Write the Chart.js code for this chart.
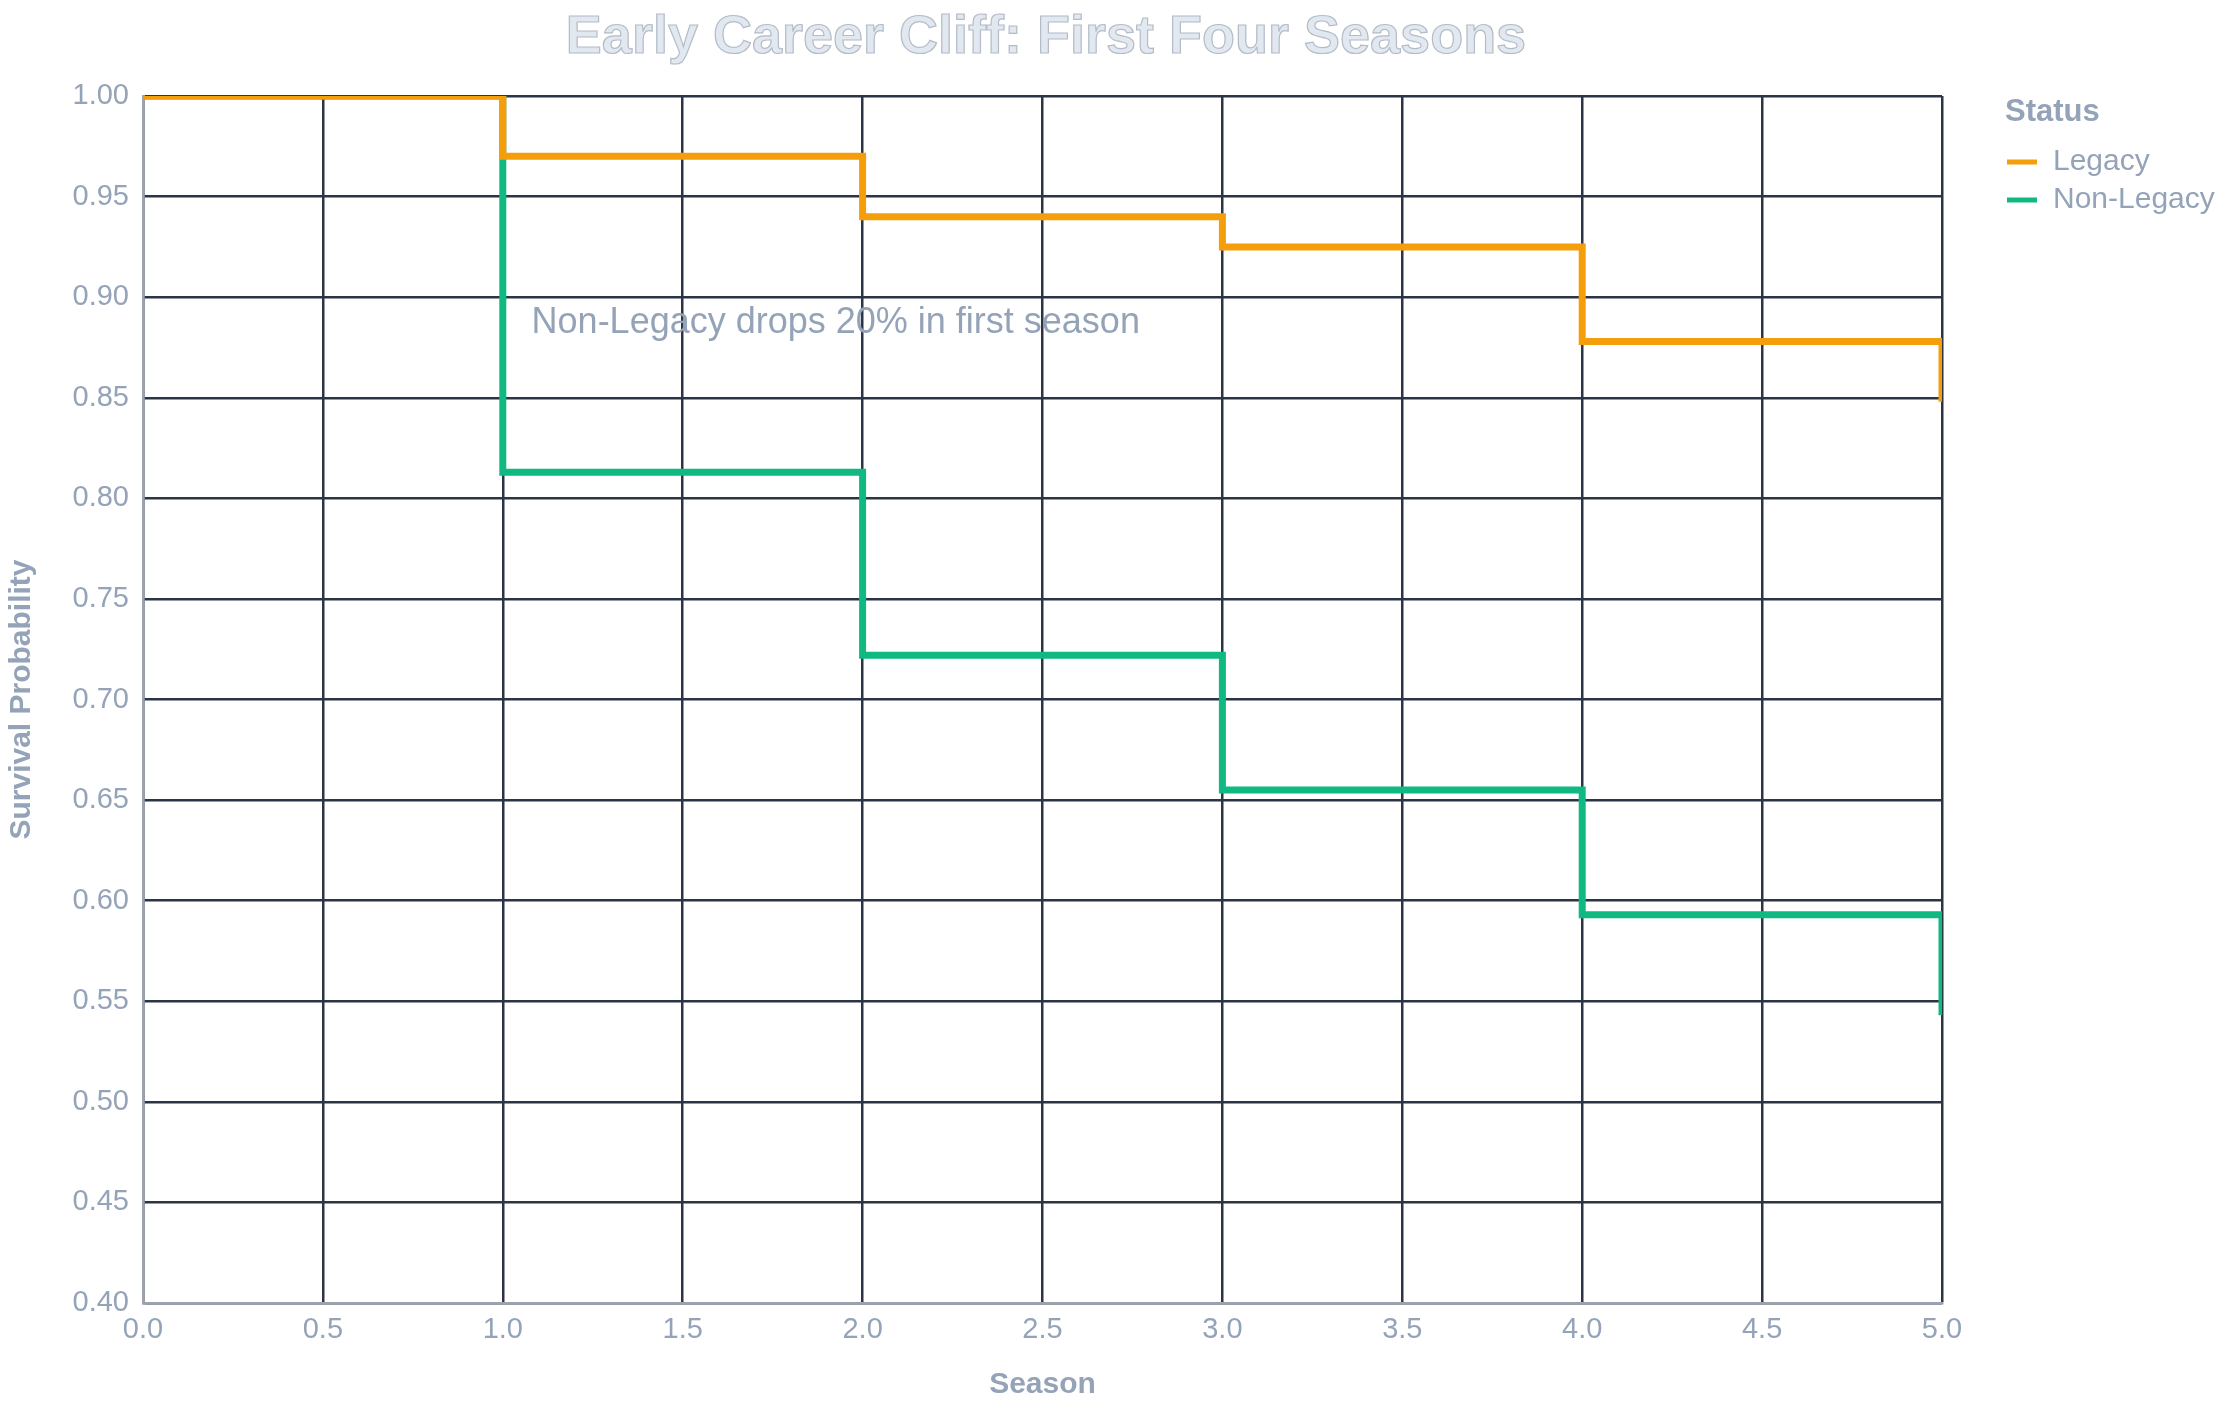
<!DOCTYPE html>
<html>
<head>
<meta charset="utf-8">
<script src="https://cdn.jsdelivr.net/npm/chart.js@4"></script>
<style>
  html, body { margin: 0; padding: 0; background: #fff; }
  #wrap { width: 2229px; height: 1407px; }
</style>
</head>
<body>
<div id="wrap"><canvas id="survival-chart"></canvas></div>
<script>
var seasons = [0, 1, 2, 3, 4, 5];
var legacy = [1.0, 0.97, 0.94, 0.925, 0.878, 0.848];
var nonLegacy = [1.0, 0.813, 0.722, 0.655, 0.593, 0.543];
var seriesNames = ['Legacy', 'Non-Legacy'];
var seriesColors = ['#F59E0B', '#10B981'];
var chartTitle = 'Early Career Cliff: First Four Seasons';
var noteText = 'Non-Legacy drops 20% in first season';
var noteAt = { x: 1.08, y: 0.887 };

var textColor = '#94A3B8';
var font = 'Helvetica, "Liberation Sans", Arial, sans-serif';

function toPoints(values) {
	return seasons.map(function (s, i) { return { x: s, y: values[i] }; });
}

var overlay = {
	id: 'overlay',
	afterDraw: function (chart) {
		var ctx = chart.ctx;
		ctx.save();
		// title
		ctx.font = 'bold 54px ' + font;
		ctx.textAlign = 'center';
		ctx.textBaseline = 'middle';
		ctx.fillStyle = '#E2E8F0';
		ctx.strokeStyle = '#B4BCC8';
		ctx.lineWidth = 1.2;
		ctx.fillText(chartTitle, 1046, 38);
		ctx.strokeText(chartTitle, 1046, 38);

		// annotation
		var xs = chart.scales.x, ys = chart.scales.y;
		ctx.font = '36px ' + font;
		ctx.textAlign = 'left';
		ctx.fillStyle = textColor;
		ctx.fillText(noteText, xs.getPixelForValue(noteAt.x), ys.getPixelForValue(noteAt.y));

		// legend
		ctx.font = 'bold 31px ' + font;
		ctx.fillText('Status', 2005, 112);
		ctx.font = '30px ' + font;
		chart.data.datasets.forEach(function (ds, i) {
			var y = 162 + i * 38;
			ctx.strokeStyle = ds.borderColor;
			ctx.lineWidth = 5;
			ctx.beginPath();
			ctx.moveTo(2007, y);
			ctx.lineTo(2037, y);
			ctx.stroke();
			ctx.fillStyle = textColor;
			ctx.fillText(ds.label, 2053, y);
		});
		ctx.restore();
	}
};

new Chart('survival-chart', {
	type: 'line',
	data: {
		datasets: [
			{ label: seriesNames[0], data: toPoints(legacy), borderColor: seriesColors[0] },
			{ label: seriesNames[1], data: toPoints(nonLegacy), borderColor: seriesColors[1] }
		]
	},
	options: {
		responsive: true,
		maintainAspectRatio: false,
		animation: false,
		devicePixelRatio: 1,
		layout: { padding: { top: 96, right: 287, left: 0, bottom: 0 } },
		elements: {
			line: { borderWidth: 7, stepped: 'before', fill: false },
			point: { radius: 0 }
		},
		plugins: { legend: { display: false }, title: { display: false }, tooltip: { enabled: false } },
		scales: {
			x: {
				type: 'linear', min: 0, max: 5,
				afterFit: function (s) { s.height = 104; },
				grid: { color: '#2B3545', lineWidth: 2.5, drawTicks: false },
				border: { color: '#9CA3AF', width: 2.5 },
				ticks: {
					stepSize: 0.5, color: textColor, padding: 10,
					font: { size: 29, family: font },
					callback: function (v) { return v.toFixed(1); }
				},
				title: { display: true, text: 'Season', color: textColor, font: { size: 30, weight: 'bold', family: font }, padding: { top: 0 } }
			},
			y: {
				min: 0.4, max: 1.0,
				afterFit: function (s) { s.width = 143; },
				grid: { color: '#2B3545', lineWidth: 2.5, drawTicks: false },
				border: { color: '#9CA3AF', width: 2.5 },
				ticks: {
					stepSize: 0.05, color: textColor, padding: 14,
					font: { size: 29, family: font },
					callback: function (v) { return v.toFixed(2); }
				},
				title: { display: true, text: 'Survival Probability', color: textColor, font: { size: 30, weight: 'bold', family: font }, padding: { bottom: 2 } }
			}
		}
	},
	plugins: [overlay]
});
</script>
</body>
</html>
